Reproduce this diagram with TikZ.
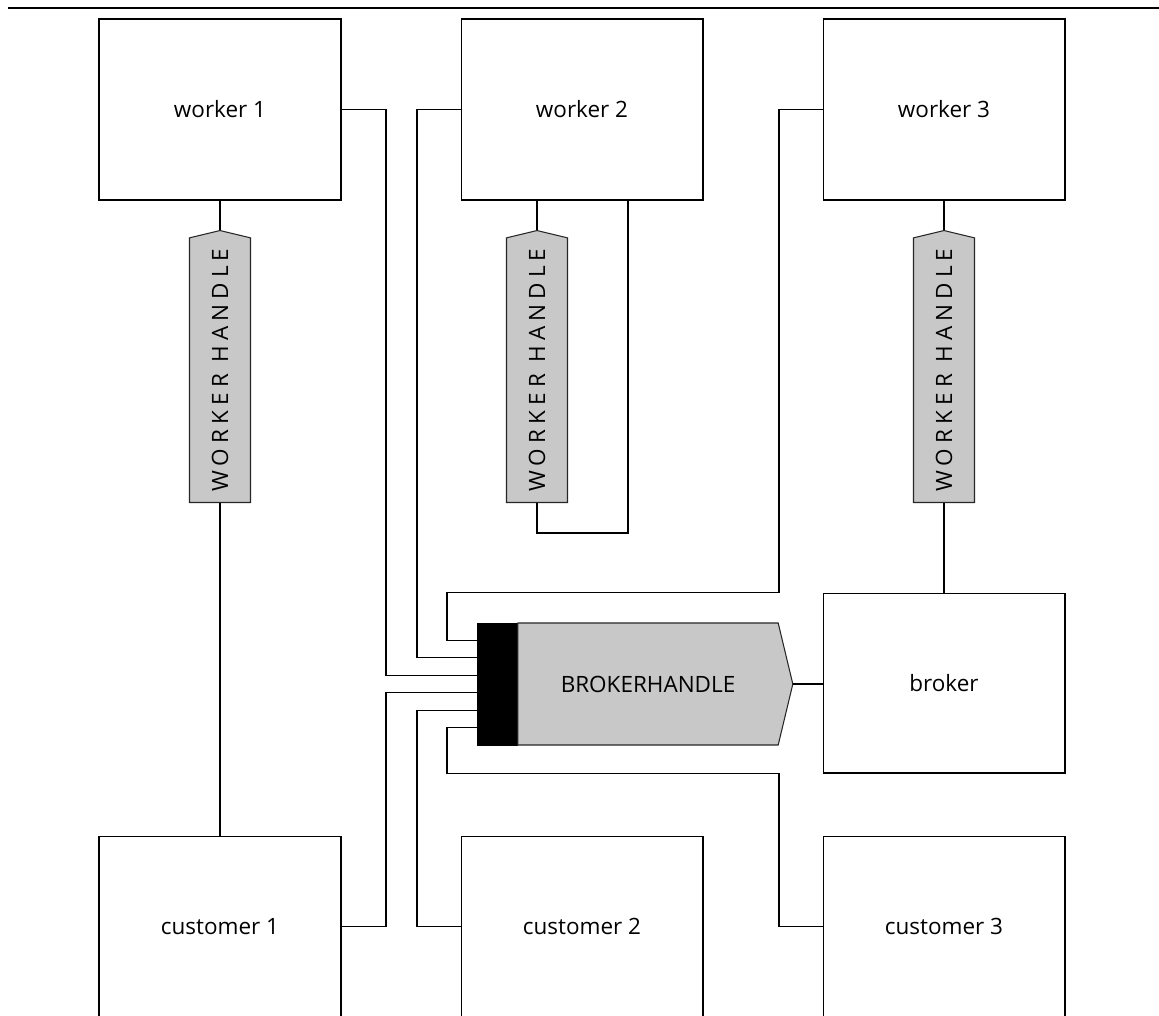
\documentclass[tikz,border=0pt]{standalone}
\usepackage{fontspec}
\setmainfont{Open Sans}
\usetikzlibrary{calc,shapes.symbols}

\definecolor{handlegray}{RGB}{200,200,200}
\tikzset{
    box/.style={draw, line width=0.6pt, minimum width=4.84cm, minimum height=3.62cm,
        font=\fontsize{12.8}{14}\selectfont},
    handle/.style={draw=black!85, fill=handlegray, line width=0.6pt, signal, signal to=east,
        signal pointer angle=153, inner sep=0pt, font=\fontsize{12.8}{14}\selectfont},
    wire/.style={line width=0.6pt},
}

\begin{document}
\begin{tikzpicture}[x=0.02cm, y=-0.02cm]
        \useasboundingbox (0,0) rectangle (1159,1015);
        \clip (0,0) rectangle (1159,1015);

        % 顶部横线
        \draw[wire] (8,8) -- (1159,8);

        % worker 与 customer
        \foreach \i/\x in {1/220,2/582,3/944}
            {
                \node[box] (w\i) at (\x,109.5) {worker \i};
                \node[box] (c\i) at (\x,926.5) {customer \i};
            }
        \node[box, minimum height=3.6cm] (broker) at (944,683) {broker};

        % worker handle
        \foreach \i/\x in {1/220,2/537,3/944}
            \node[handle, rotate=90, minimum width=5.44cm, minimum height=1.22cm, anchor=west]
                (wh\i) at (\x,503) {\addfontfeatures{LetterSpace=23}WORKER HANDLE};

        % broker handle
        \node[fill=black, draw=black, minimum width=0.8cm, minimum height=2.44cm, inner sep=0pt]
            (bhb) at (497,684) {};
        \node[handle, minimum width=5.5cm, minimum height=2.44cm, anchor=west]
            (bh) at (bhb.east) {BROKERHANDLE\hspace{0.3cm}};

        % 接口与走线
        \foreach \k in {1,2,...,6}
            \coordinate (p\k) at ($(bhb.north west)!\k/7!(bhb.south west)$);
        \coordinate (laneA) at (386,0);
        \coordinate (laneB) at (417,0);
        \coordinate (laneC) at (447,0);
        \coordinate (laneD) at (779,0);

        \draw[wire] (w1.south) -- (wh1.east);
        \draw[wire] (wh1.west) -- (c1.north);
        \draw[wire] (wh2.east |- w2.south) -- (wh2.east);
        \draw[wire] (wh2.west) -- ++(0,30) -| ($(w2.south)+(46,0)$);
        \draw[wire] (w3.south) -- (wh3.east);
        \draw[wire] (wh3.west) -- (wh3.west |- broker.north);

        \draw[wire] (w1.east) -- (w1.east -| laneA) -- (laneA |- p3) -- (p3);
        \draw[wire] (w2.west) -- (w2.west -| laneB) -- (laneB |- p2) -- (p2);
        \draw[wire] (w3.west) -- (w3.west -| laneD) -- (laneD |- broker.north)
            -- (laneC |- broker.north) -- (laneC |- p1) -- (p1);
        \draw[wire] (c1.east) -- (c1.east -| laneA) -- (laneA |- p4) -- (p4);
        \draw[wire] (c2.west) -- (c2.west -| laneB) -- (laneB |- p5) -- (p5);
        \draw[wire] (c3.west) -- (c3.west -| laneD) -- (laneD |- broker.south)
            -- (laneC |- broker.south) -- (laneC |- p6) -- (p6);
        \draw[wire] (bh.east) -- (bh.east -| broker.west);

    \end{tikzpicture}
\end{document}
